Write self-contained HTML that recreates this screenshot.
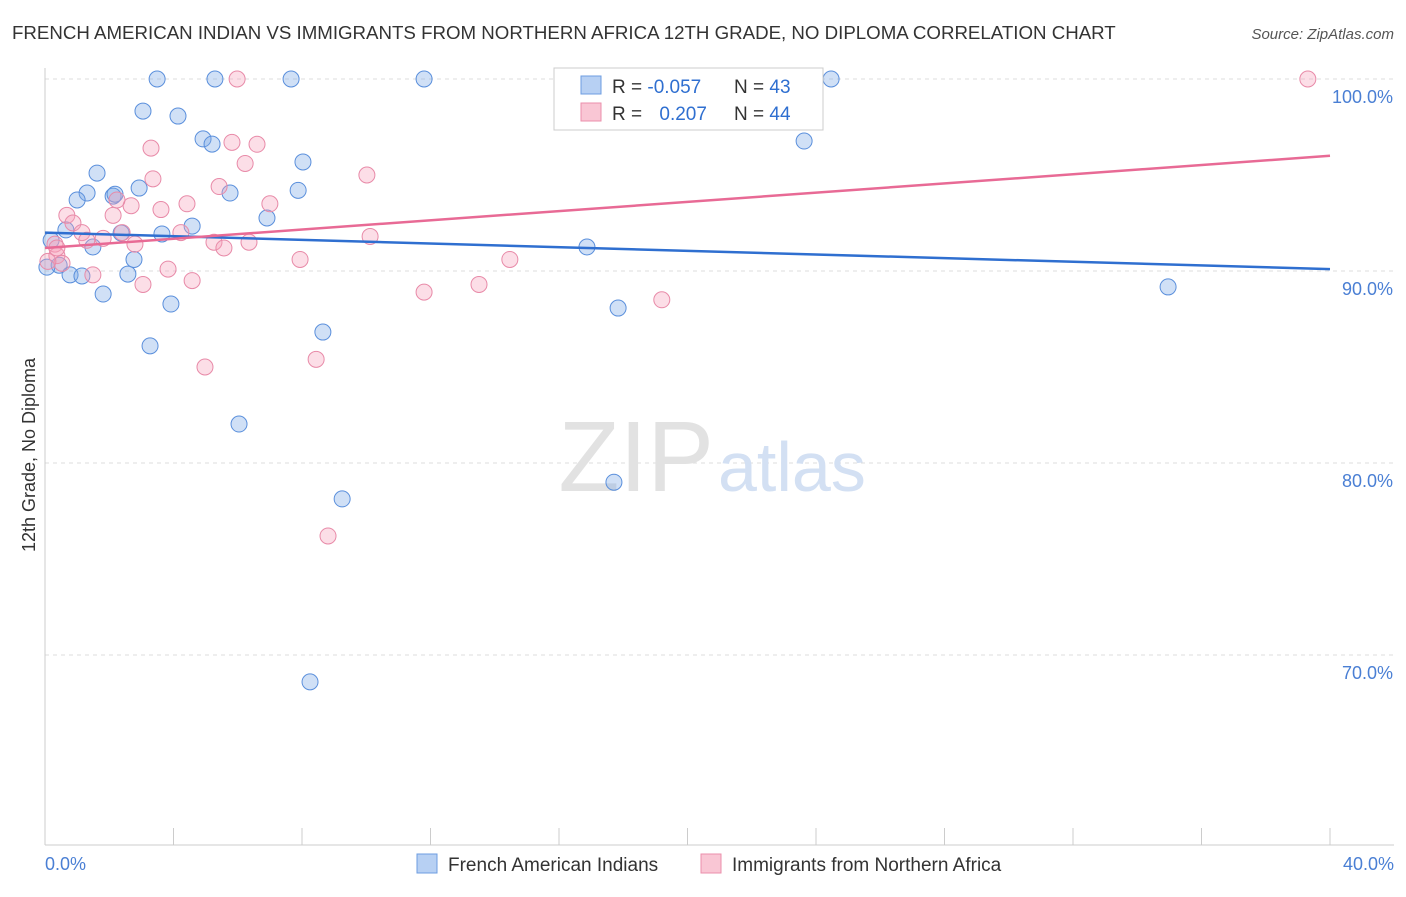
<!DOCTYPE html>
<html><head><meta charset="utf-8"><style>
body{margin:0;background:#fff;font-family:"Liberation Sans",sans-serif;}
svg text{font-family:"Liberation Sans",sans-serif;}
</style></head><body>
<svg id="chart" width="1406" height="892">
<text x="12" y="39" font-size="18.7" fill="#333">FRENCH AMERICAN INDIAN VS IMMIGRANTS FROM NORTHERN AFRICA 12TH GRADE, NO DIPLOMA CORRELATION CHART</text>
<text x="1394" y="39" font-size="15" fill="#555" font-style="italic" text-anchor="end">Source: ZipAtlas.com</text>
<g id="grid"></g>
<text x="714" y="491" font-size="100" fill="#e2e2e2" text-anchor="end" font-family="Liberation Serif">ZIP</text>
<text x="718" y="491" font-size="70" fill="#d3e0f3">atlas</text>
<text transform="translate(35,455) rotate(-90)" font-size="18" fill="#333" text-anchor="middle">12th Grade, No Diploma</text>
<g id="pts"></g>
<g id="lines"></g>
<g>
<rect x="554" y="68" width="269" height="62" fill="#fff" stroke="#ccc"/>
<rect x="581" y="76" width="20" height="18" fill="#b7d0f3" stroke="#6d9de0"/>
<rect x="581" y="103" width="20" height="18" fill="#f9c6d4" stroke="#eb8fab"/>
<text x="612" y="93" font-size="19" fill="#333">R = <tspan fill="#2f6fd0">-0.057</tspan></text>
<text x="734" y="93" font-size="19" fill="#333">N = <tspan fill="#2f6fd0">43</tspan></text>
<text x="612" y="120" font-size="19" fill="#333">R = <tspan fill="#2f6fd0" dx="12">0.207</tspan></text>
<text x="734" y="120" font-size="19" fill="#333">N = <tspan fill="#2f6fd0">44</tspan></text>
</g>
<g>
<rect x="417" y="854" width="20" height="19" fill="#b7d0f3" stroke="#6d9de0"/>
<text x="448" y="871" font-size="19" fill="#333">French American Indians</text>
<rect x="701" y="854" width="20" height="19" fill="#f9c6d4" stroke="#eb8fab"/>
<text x="732" y="871" font-size="19" fill="#333">Immigrants from Northern Africa</text>
</g>
</svg>
<script>
const blueX=[3.49,5.29,7.66,11.8,24.47,3.05,4.14,4.92,5.2,23.63,1.62,8.03,2.93,1.31,7.88,5.76,1.0,2.12,2.18,6.91,4.58,0.65,2.37,3.64,0.19,1.49,16.87,2.77,0.44,0.06,0.78,1.15,2.58,1.81,3.92,17.84,34.96,8.65,3.27,6.04,9.25,17.71,8.25];
const blueY=[100,100,100,100,100,98.33,98.07,96.88,96.61,96.77,95.1,95.68,94.32,94.06,94.2,94.06,93.7,93.9,94.0,92.76,92.34,92.14,91.98,91.93,91.6,91.25,91.25,90.6,90.3,90.2,89.8,89.74,89.84,88.8,88.28,88.07,89.17,86.82,86.1,82.03,78.13,79.0,68.6];
const pinkX=[5.98,39.31,3.3,5.82,6.6,6.23,10.02,3.36,5.42,7.0,4.42,2.68,2.12,3.61,0.68,0.87,1.15,2.4,4.23,2.24,10.12,1.81,2.8,5.26,5.57,6.35,0.31,0.37,0.53,0.09,7.94,14.47,3.83,1.49,4.58,3.05,13.51,11.8,19.2,4.98,8.44,8.81,0.37,1.3];
const pinkY=[100,100,96.4,96.7,96.6,95.6,95.0,94.8,94.4,93.5,93.5,93.4,92.9,93.2,92.9,92.5,92.0,92.0,92.0,93.7,91.8,91.7,91.4,91.5,91.2,91.5,91.4,90.8,90.4,90.5,90.6,90.6,90.1,89.8,89.5,89.3,89.3,88.9,88.5,85.0,85.4,76.2,91.2,91.6];
const blueTrend=[0,92.0,40,90.1];
const pinkTrend=[0,91.2,40,96.0];
const yTicks=[100,90,80,70];
const x0=45,x1=1330,yTop=79,pxPer=19.2;
const X=v=>x0+(v/40)*(x1-x0);
const Y=v=>yTop+(100-v)*pxPer;
const NS="http://www.w3.org/2000/svg";
function mk(t,a,p){const e=document.createElementNS(NS,t);for(const k in a)e.setAttribute(k,a[k]);p.appendChild(e);return e;}
const g=document.getElementById('grid');
yTicks.forEach(t=>{
 const l=mk('line',{x1:45,x2:1394,y1:Y(t),y2:Y(t),stroke:'#ddd','stroke-dasharray':'4,4'},g);
 
 
 const tx=mk('text',{x:1393,y:Y(t)+24,'font-size':18,fill:'#4a7fd4','text-anchor':'end'},g);
 tx.textContent=t.toFixed(1)+'%';
 
 
});
const ax=mk('line',{x1:45,x2:45,y1:68,y2:845,stroke:'#ccc'},g);


const bx=mk('line',{x1:45,x2:1394,y1:845,y2:845,stroke:'#ccc'},g);


for(let i=0;i<=10;i++){const t=mk('line',{x1:X(i*4),x2:X(i*4),y1:828,y2:845,stroke:'#ccc'},g);
 
 }
[[0,'0.0%','start',45],[40,'40.0%','end',1394]].forEach(d=>{const t=mk('text',{x:d[3],y:870,'font-size':18,fill:'#4a7fd4','text-anchor':d[2]},g);t.textContent=d[1];
 
 });
const p=document.getElementById('pts');
blueX.forEach((v,i)=>{const c=mk('circle',{cx:X(v),cy:Y(blueY[i]),r:8,fill:'rgba(120,165,230,0.35)',stroke:'#5a8fdc','stroke-width':1},p);
 
 });
pinkX.forEach((v,i)=>{const c=mk('circle',{cx:X(v),cy:Y(pinkY[i]),r:8,fill:'rgba(245,160,185,0.35)',stroke:'#e88aa8','stroke-width':1},p);
 
 });
const L=document.getElementById('lines');
const b=mk('line',{x1:X(blueTrend[0]),y1:Y(blueTrend[1]),x2:X(blueTrend[2]),y2:Y(blueTrend[3]),stroke:'#2f6fd0','stroke-width':2.5},L);


const pk=mk('line',{x1:X(pinkTrend[0]),y1:Y(pinkTrend[1]),x2:X(pinkTrend[2]),y2:Y(pinkTrend[3]),stroke:'#e86a95','stroke-width':2.5},L);


</script>
</body></html>
